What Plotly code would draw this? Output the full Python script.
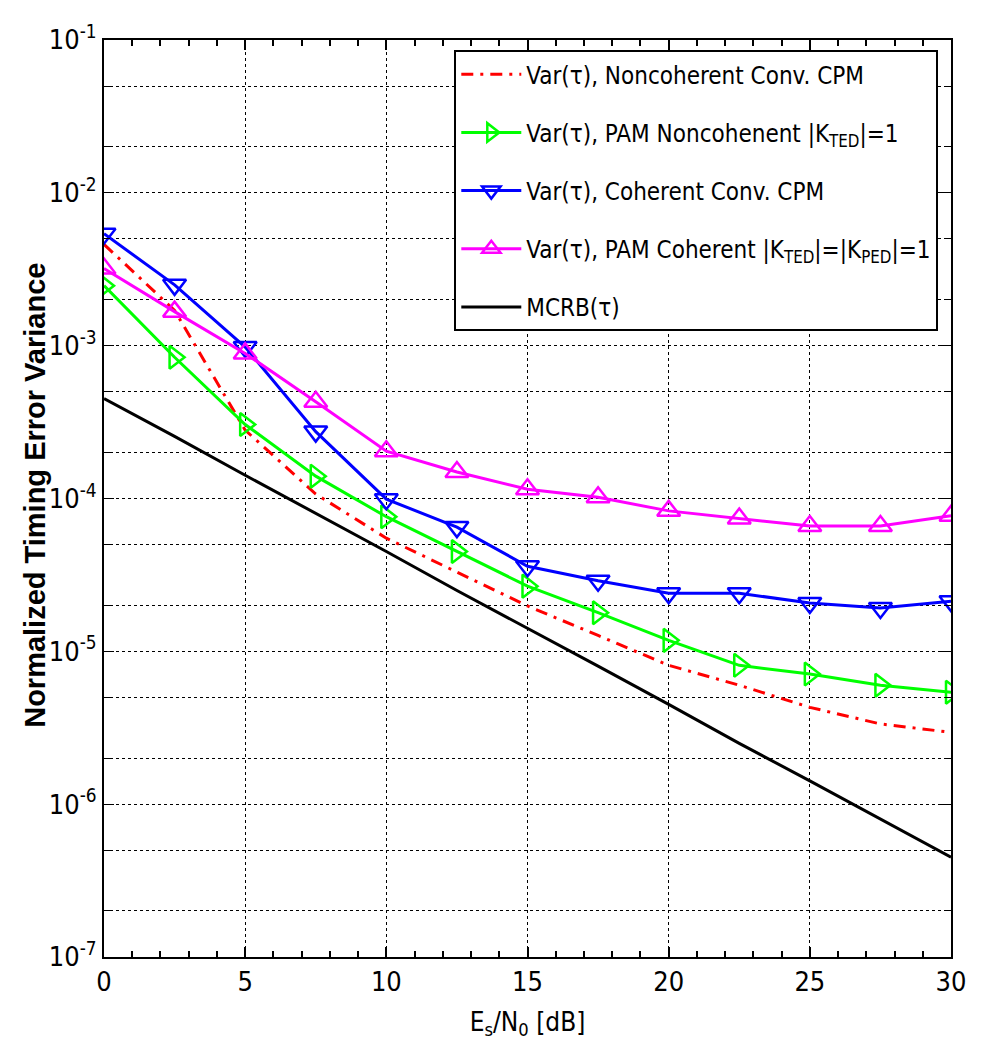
import plotly.graph_objects as go

snr_db = [0, 2.5, 5, 7.5, 10, 12.5, 15, 17.5, 20, 22.5, 25, 27.5, 30]

var_noncoh_cpm = [4.6e-3, 1.7e-3, 2.8e-4, 1.07e-4, 5.5e-5, 3.3e-5, 1.98e-5, 1.27e-5, 8.1e-6, 6.0e-6, 4.3e-6, 3.35e-6, 2.95e-6]
var_pam_noncoh = [2.47e-3, 8.4e-4, 3.05e-4, 1.4e-4, 7.6e-5, 4.5e-5, 2.67e-5, 1.79e-5, 1.18e-5, 8.1e-6, 7.1e-6, 6.0e-6, 5.4e-6]
var_coh_cpm = [5.4e-3, 2.5e-3, 9.8e-4, 2.74e-4, 9.9e-5, 6.5e-5, 3.6e-5, 2.9e-5, 2.4e-5, 2.4e-5, 2.07e-5, 1.92e-5, 2.13e-5]
var_pam_coh = [3.2e-3, 1.67e-3, 8.9e-4, 4.3e-4, 2.04e-4, 1.49e-4, 1.15e-4, 1.02e-4, 8.3e-5, 7.4e-5, 6.6e-5, 6.6e-5, 7.7e-5]
mcrb = [4.5e-4, 2.55e-4, 1.42e-4, 8.0e-5, 4.5e-5, 2.5e-5, 1.42e-5, 8.0e-6, 4.5e-6, 2.5e-6, 1.42e-6, 8.0e-7, 4.5e-7]

names = [
    "Var(τ), Noncoherent Conv. CPM",
    "Var(τ), PAM Noncohenent |K<sub>TED</sub>|=1",
    "Var(τ), Coherent Conv. CPM",
    "Var(τ), PAM Coherent |K<sub>TED</sub>|=|K<sub>PED</sub>|=1",
    "MCRB(τ)",
]

y_tickvals = [1e-7, 1e-6, 1e-5, 1e-4, 1e-3, 1e-2, 1e-1]
y_ticktext = ["10<sup>-7</sup>", "10<sup>-6</sup>", "10<sup>-5</sup>", "10<sup>-4</sup>",
              "10<sup>-3</sup>", "10<sup>-2</sup>", "10<sup>-1</sup>"]
x_tickvals = [0, 5, 10, 15, 20, 25, 30]

FONT = "Liberation Sans Narrow, Arial Narrow, DejaVu Sans Condensed, Liberation Sans, Arial, sans-serif"
MS = 20

fig = go.Figure()
fig.add_trace(go.Scatter(x=snr_db, y=var_noncoh_cpm, name=names[0], mode="lines", legendgroup="a",
                         line=dict(color="#ff0000", width=3, dash="12px,7px,3px,7px")))
fig.add_trace(go.Scatter(x=snr_db, y=var_pam_noncoh, name=names[1], mode="lines+markers", legendgroup="b",
                         line=dict(color="#00ff00", width=3),
                         marker=dict(symbol="triangle-right-open", size=MS, color="#00ff00",
                                     line=dict(width=2.5, color="#00ff00"))))
fig.add_trace(go.Scatter(x=snr_db, y=var_coh_cpm, name=names[2], mode="lines+markers", legendgroup="c",
                         line=dict(color="#0000ff", width=3),
                         marker=dict(symbol="triangle-down-open", size=MS, color="#0000ff",
                                     line=dict(width=2.5, color="#0000ff"))))
fig.add_trace(go.Scatter(x=snr_db, y=var_pam_coh, name=names[3], mode="lines+markers", legendgroup="d",
                         line=dict(color="#ff00ff", width=3),
                         marker=dict(symbol="triangle-up-open", size=MS, color="#ff00ff",
                                     line=dict(width=2.5, color="#ff00ff"))))
fig.add_trace(go.Scatter(x=snr_db, y=mcrb, name=names[4], mode="lines", legendgroup="e",
                         line=dict(color="#000000", width=3)))

fig.update_layout(
    width=982, height=1053,
    margin=dict(l=96, r=39, t=24, b=104),
    paper_bgcolor="white", plot_bgcolor="white",
    font=dict(family=FONT, size=24, color="black"),
    legend=dict(x=0.985, y=0.989, xanchor="right", yanchor="top",
                bgcolor="white", bordercolor="black", borderwidth=2,
                font=dict(family=FONT, size=24, color="black"),
                itemwidth=60, tracegroupgap=24),
    showlegend=True,
    annotations=[dict(text="<b>Normalized Timing Error Variance</b>", xref="paper", yref="paper",
                      x=-0.0815, y=0.504, textangle=-90, showarrow=False,
                      xanchor="center", yanchor="middle",
                      font=dict(family="Liberation Sans, Arial, sans-serif", size=29, color="black"))],
)

fig.update_xaxes(
    range=[0, 30], tickvals=x_tickvals, ticks="inside", ticklen=10, tickwidth=1.5,
    tickcolor="black",
    minor=dict(dtick=1, ticks="inside", ticklen=6, tickcolor="black", showgrid=False),
    showline=True, linecolor="black", linewidth=2, mirror="allticks",
    showgrid=True, gridcolor="black", griddash="dot", gridwidth=1,
    zeroline=False,
    tickfont=dict(family=FONT, size=27),
    title=dict(text="E<sub>s</sub>/N<sub>0</sub> [dB]", font=dict(family=FONT, size=26), standoff=16),
)
fig.update_yaxes(
    type="log", range=[-7, -1], tickvals=y_tickvals, ticktext=y_ticktext,
    ticks="inside", ticklen=10, tickcolor="black",
    minor=dict(ticks="inside", ticklen=6, tickcolor="black", showgrid=True,
               gridcolor="black", griddash="dot", gridwidth=1),
    showline=True, linecolor="black", linewidth=2, mirror="allticks",
    showgrid=True, gridcolor="black", griddash="dot", gridwidth=1,
    tickfont=dict(family=FONT, size=27),
)

fig.write_html("out.html")
